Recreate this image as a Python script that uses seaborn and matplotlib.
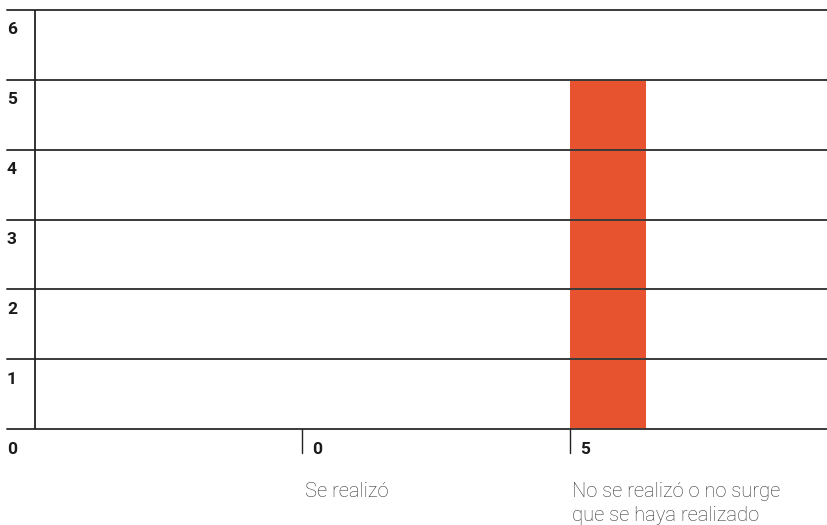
import matplotlib
matplotlib.use("Agg")
import matplotlib.pyplot as plt
import matplotlib.transforms as mtransforms
import seaborn as sns
import pandas as pd

categories = ["Se realizó", "No se realizó o no surge\nque se haya realizado"]
values = [0, 5]
value_labels = ["0", "5"]
y_ticks = [0, 1, 2, 3, 4, 5, 6]
y_tick_labels = ["0", "1", "2", "3", "4", "5", "6"]

BAR_COLOR = "#E8532F"
LINE_COLOR = "#3a3a3a"
TEXT_COLOR = "#1a1a1a"

sns.set_theme(style="white")
plt.rcParams["font.family"] = ["Roboto", "DejaVu Sans"]

W, H = 828, 525
fig = plt.figure(figsize=(W / 100, H / 100), dpi=100)
left_px, right_px, top_px, bottom_px = 7, 828, 10, 429
ax = fig.add_axes([left_px / W, (H - bottom_px) / H, (right_px - left_px) / W, (bottom_px - top_px) / H])

band = 267.5
x0_px = 35
cat_idx = [1, 2]
bar_w = 76 / band
positions = [i + bar_w / 2 for i in cat_idx]

df = pd.DataFrame({"pos": positions, "val": values, "cat": categories})
sns.barplot(data=df, x="pos", y="val", native_scale=True, width=bar_w,
            color=BAR_COLOR, saturation=1, ax=ax, linewidth=0, errorbar=None)

ax.set_xlim((left_px - x0_px) / band, (right_px - x0_px) / band)
ax.set_ylim(0, 6)
for s in ax.spines.values():
    s.set_visible(False)
ax.set_xticks([])
ax.set_yticks([])
ax.set_xlabel("")
ax.set_ylabel("")

for y in y_ticks:
    ax.axhline(y, color=LINE_COLOR, lw=1.4, zorder=1, clip_on=False)
ax.axvline(0, color="#222222", lw=1.3, zorder=3)

# y labels below gridlines
trans_y = mtransforms.blended_transform_factory(ax.transAxes, ax.transData)
for y, lab in zip(y_ticks, y_tick_labels):
    off = mtransforms.offset_copy(trans_y, fig=fig, x=0, y=-9, units="points")
    ax.text(0.0, y, lab, transform=off, ha="left", va="top", fontsize=12.5,
            fontweight="bold", color=TEXT_COLOR)

# category ticks and labels
trans_x = mtransforms.blended_transform_factory(ax.transData, ax.transAxes)
for i, cat, vl in zip(cat_idx, categories, value_labels):
    ax.plot([i, i], [0, -24 / (bottom_px - top_px)], transform=trans_x,
            color="#222222", lw=1.0, clip_on=False)
    off = mtransforms.offset_copy(trans_x, fig=fig, x=7, y=-9, units="points")
    ax.text(i, 0, vl, transform=off, ha="left", va="top", fontsize=12.5,
            fontweight="bold", color=TEXT_COLOR)
    off2 = mtransforms.offset_copy(trans_x, fig=fig, x=1.5, y=-38, units="points")
    ax.text(i, 0, cat, transform=off2, ha="left", va="top", fontsize=14.5,
            fontweight="light", color="#333333", linespacing=1.32)

fig.savefig("out.png", dpi=100)
